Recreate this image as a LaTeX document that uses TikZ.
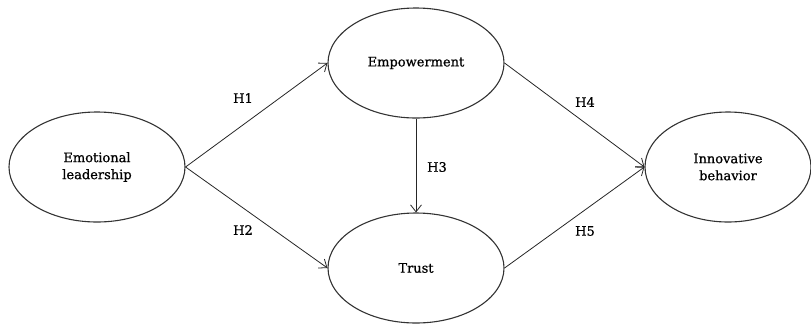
\documentclass[tikz,border=0pt]{standalone}
\usepackage{fontspec}
\setmainfont{DejaVu Serif}
\newfontfamily\dfont{DejaVu Serif}[FakeBold=0.8]
\usetikzlibrary{shapes.geometric,arrows.meta}
\begin{document}
\begin{tikzpicture}[x=1pt,y=-1pt,
  construct/.style={draw=black!80, line width=1.1pt, ellipse, minimum width=176pt, minimum height=110pt, inner sep=0pt, align=center, font=\dfont\fontsize{13}{17}\selectfont},
  path/.style={draw=black!85, line width=0.8pt, -{Straight Barb[length=7pt,width=11pt]}},
  hyp/.style={font=\dfont\fontsize{13}{15}\selectfont}]
\useasboundingbox (0,0) rectangle (811,325);
\node[construct] (el) at (97,167) {Emotional\\leadership};
\node[construct] (em) at (416,63) {Empowerment};
\node[construct] (tr) at (416,268) {Trust};
\node[construct, minimum width=166pt] (ib) at (728,167) {Innovative\\behavior};
\draw[path] (el.east) -- (em.west);
\draw[path] (el.east) -- (tr.west);
\draw[path] (em.south) -- (tr.north);
\draw[path] (em.east) -- (ib.west);
\draw[path] (tr.east) -- (ib.west);
\node[hyp] (h1) at (243,98) {H1};
\node[hyp] (h2) at (243,230) {H2};
\node[hyp] (h3) at (437,167) {H3};
\node[hyp] (h4) at (585,102) {H4};
\node[hyp] (h5) at (585,231) {H5};
\end{tikzpicture}
\end{document}
